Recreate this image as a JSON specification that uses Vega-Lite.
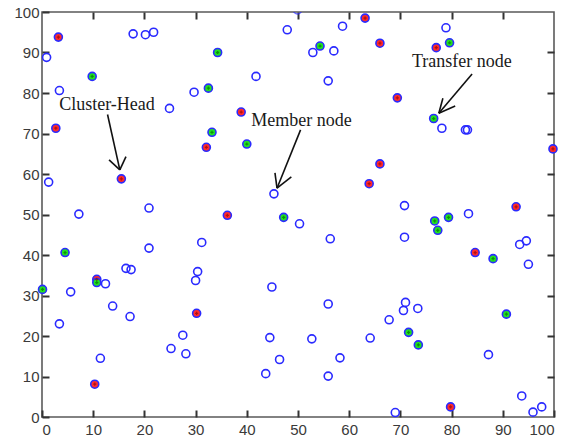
{
  "$schema": "https://vega.github.io/schema/vega-lite/v6.json",
  "width": 512,
  "height": 405,
  "autosize": {"type": "none"},
  "padding": {"left": 42, "top": 12, "right": 14, "bottom": 24},
  "background": "white",
  "config": {
    "view": {"stroke": "#5a5a5a", "strokeWidth": 1.6},
    "axis": {
      "grid": false,
      "ticks": true,
      "tickColor": "#333333",
      "tickWidth": 2,
      "labelFont": "Liberation Sans",
      "labelFontSize": 15,
      "labelColor": "#3a3a3a"
    }
  },
  "datasets": {
    "nodes": [
      {"x": 3.2, "y": 93.8, "t": "head"},
      {"x": 0.9, "y": 88.8, "t": "member"},
      {"x": 17.8, "y": 94.6, "t": "member"},
      {"x": 20.2, "y": 94.4, "t": "member"},
      {"x": 21.8, "y": 95.0, "t": "member"},
      {"x": 9.8, "y": 84.1, "t": "transfer"},
      {"x": 3.4, "y": 80.6, "t": "member"},
      {"x": 2.7, "y": 71.3, "t": "head"},
      {"x": 24.9, "y": 76.2, "t": "member"},
      {"x": 29.7, "y": 80.2, "t": "member"},
      {"x": 32.5, "y": 81.2, "t": "transfer"},
      {"x": 34.3, "y": 90.0, "t": "transfer"},
      {"x": 41.8, "y": 84.1, "t": "member"},
      {"x": 38.9, "y": 75.3, "t": "head"},
      {"x": 33.2, "y": 70.3, "t": "transfer"},
      {"x": 32.1, "y": 66.6, "t": "head"},
      {"x": 40.0, "y": 67.4, "t": "transfer"},
      {"x": 1.3, "y": 58.0, "t": "member"},
      {"x": 15.5, "y": 58.8, "t": "head"},
      {"x": 45.3, "y": 55.1, "t": "member"},
      {"x": 7.2, "y": 50.1, "t": "member"},
      {"x": 20.9, "y": 51.6, "t": "member"},
      {"x": 36.2, "y": 49.8, "t": "head"},
      {"x": 47.2, "y": 49.3, "t": "transfer"},
      {"x": 47.9, "y": 95.6, "t": "member"},
      {"x": 58.7, "y": 96.5, "t": "member"},
      {"x": 63.1, "y": 98.5, "t": "head"},
      {"x": 54.3, "y": 91.6, "t": "transfer"},
      {"x": 52.9, "y": 90.0, "t": "member"},
      {"x": 57.0, "y": 90.4, "t": "member"},
      {"x": 55.9, "y": 83.0, "t": "member"},
      {"x": 66.0, "y": 92.3, "t": "head"},
      {"x": 69.4, "y": 78.8, "t": "head"},
      {"x": 78.9, "y": 96.1, "t": "member"},
      {"x": 77.0, "y": 91.2, "t": "head"},
      {"x": 79.6, "y": 92.4, "t": "transfer"},
      {"x": 76.5, "y": 73.7, "t": "transfer"},
      {"x": 78.1, "y": 71.3, "t": "member"},
      {"x": 82.7, "y": 70.9, "t": "member"},
      {"x": 83.1, "y": 70.9, "t": "member"},
      {"x": 99.8, "y": 66.2, "t": "head"},
      {"x": 66.0, "y": 62.5, "t": "head"},
      {"x": 63.9, "y": 57.6, "t": "head"},
      {"x": 70.8, "y": 52.2, "t": "member"},
      {"x": 83.3, "y": 50.2, "t": "member"},
      {"x": 92.6, "y": 51.9, "t": "head"},
      {"x": 50.3, "y": 47.7, "t": "member"},
      {"x": 56.3, "y": 44.0, "t": "member"},
      {"x": 70.8, "y": 44.4, "t": "member"},
      {"x": 76.7, "y": 48.4, "t": "transfer"},
      {"x": 77.3, "y": 46.1, "t": "transfer"},
      {"x": 79.4, "y": 49.3, "t": "transfer"},
      {"x": 93.3, "y": 42.6, "t": "member"},
      {"x": 94.6, "y": 43.5, "t": "member"},
      {"x": 84.6, "y": 40.6, "t": "head"},
      {"x": 88.1, "y": 39.1, "t": "transfer"},
      {"x": 95.0, "y": 37.7, "t": "member"},
      {"x": 55.9, "y": 27.9, "t": "member"},
      {"x": 71.0, "y": 28.3, "t": "member"},
      {"x": 70.6, "y": 26.3, "t": "member"},
      {"x": 73.4, "y": 26.8, "t": "member"},
      {"x": 67.8, "y": 24.0, "t": "member"},
      {"x": 90.7, "y": 25.4, "t": "transfer"},
      {"x": 71.6, "y": 20.9, "t": "transfer"},
      {"x": 52.7, "y": 19.3, "t": "member"},
      {"x": 64.1, "y": 19.5, "t": "member"},
      {"x": 73.5, "y": 17.8, "t": "transfer"},
      {"x": 87.2, "y": 15.4, "t": "member"},
      {"x": 58.2, "y": 14.6, "t": "member"},
      {"x": 46.4, "y": 14.2, "t": "member"},
      {"x": 55.9, "y": 10.1, "t": "member"},
      {"x": 93.7, "y": 5.2, "t": "member"},
      {"x": 79.8, "y": 2.5, "t": "head"},
      {"x": 69.0, "y": 1.1, "t": "member"},
      {"x": 95.9, "y": 1.2, "t": "member"},
      {"x": 97.6, "y": 2.5, "t": "member"},
      {"x": 4.5, "y": 40.6, "t": "transfer"},
      {"x": 20.9, "y": 41.7, "t": "member"},
      {"x": 31.2, "y": 43.1, "t": "member"},
      {"x": 16.4, "y": 36.7, "t": "member"},
      {"x": 17.4, "y": 36.4, "t": "member"},
      {"x": 30.4, "y": 35.9, "t": "member"},
      {"x": 30.0, "y": 33.7, "t": "member"},
      {"x": 0.1, "y": 31.5, "t": "transfer"},
      {"x": 5.6, "y": 30.9, "t": "member"},
      {"x": 10.7, "y": 34.0, "t": "head"},
      {"x": 10.7, "y": 33.2, "t": "transfer"},
      {"x": 12.4, "y": 32.9, "t": "member"},
      {"x": 13.8, "y": 27.4, "t": "member"},
      {"x": 17.2, "y": 24.8, "t": "member"},
      {"x": 3.4, "y": 23.0, "t": "member"},
      {"x": 30.2, "y": 25.6, "t": "head"},
      {"x": 27.5, "y": 20.2, "t": "member"},
      {"x": 25.2, "y": 16.9, "t": "member"},
      {"x": 28.1, "y": 15.6, "t": "member"},
      {"x": 11.4, "y": 14.5, "t": "member"},
      {"x": 10.3, "y": 8.1, "t": "head"},
      {"x": 44.9, "y": 32.1, "t": "member"},
      {"x": 44.5, "y": 19.6, "t": "member"},
      {"x": 43.7, "y": 10.7, "t": "member"}
    ],
    "edge": [
      {"x": 49.9, "y": 100.5, "t": "member"}
    ],
    "labels": [
      {"x": 12.7, "y": 77.0, "label": "Cluster-Head"},
      {"x": 50.7, "y": 73.2, "label": "Member node"},
      {"x": 82.0, "y": 87.6, "label": "Transfer node"}
    ],
    "segments": [
      {"x": 12.8, "y": 74.7, "x2": 15.2, "y2": 61.0},
      {"x": 13.1, "y": 63.5, "x2": 15.2, "y2": 61.0},
      {"x": 16.4, "y": 64.3, "x2": 15.2, "y2": 61.0},
      {"x": 50.5, "y": 70.9, "x2": 45.9, "y2": 56.5},
      {"x": 45.5, "y": 60.3, "x2": 45.9, "y2": 56.5},
      {"x": 48.7, "y": 59.3, "x2": 45.9, "y2": 56.5},
      {"x": 84.0, "y": 84.7, "x2": 77.5, "y2": 75.0},
      {"x": 78.3, "y": 78.7, "x2": 77.5, "y2": 75.0},
      {"x": 80.7, "y": 76.8, "x2": 77.5, "y2": 75.0}
    ]
  },
  "layer": [
    {
      "data": {"name": "segments"},
      "mark": {"type": "rule", "color": "#111111", "strokeWidth": 1.6},
      "encoding": {
        "x": {"field": "x", "type": "quantitative", "title": null, "scale": {"domain": [0, 100], "nice": false},
              "axis": {"orient": "top", "labels": false, "domain": false, "ticks": true, "tickSize": 7, "offset": -7, "values": [10,20,30,40,50,60,70,80,90]}},
        "y": {"field": "y", "type": "quantitative", "title": null, "scale": {"domain": [0, 100], "nice": false},
              "axis": {"orient": "right", "labels": false, "domain": false, "ticks": true, "tickSize": 7, "offset": -7, "values": [10,20,30,40,50,60,70,80,90]}},
        "x2": {"field": "x2"},
        "y2": {"field": "y2"}
      }
    },
    {
      "data": {"name": "nodes"},
      "mark": {"type": "point", "shape": "circle", "filled": true, "size": 64, "strokeWidth": 1.6, "stroke": "#2a2aff", "opacity": 1, "fillOpacity": 1},
      "encoding": {
        "x": {"field": "x", "type": "quantitative", "title": null,
              "axis": {"orient": "bottom", "domain": false, "ticks": true, "tickSize": 7, "offset": -7, "labelPadding": 5, "values": [0,10,20,30,40,50,60,70,80,90,100]}},
        "y": {"field": "y", "type": "quantitative", "title": null,
              "axis": {"orient": "left", "domain": false, "ticks": true, "tickSize": 7, "offset": -7, "labelPadding": 3, "values": [0,10,20,30,40,50,60,70,80,90,100]}},
        "fill": {"field": "t", "type": "nominal",
                 "scale": {"domain": ["member", "head", "transfer"], "range": ["rgba(255,255,255,0)", "#ff2a2a", "#22e022"]},
                 "legend": null}
      }
    },
    {
      "data": {"name": "edge"},
      "mark": {"type": "point", "shape": "circle", "filled": false, "size": 64, "strokeWidth": 1.6, "color": "#2a2aff", "clip": true},
      "encoding": {
        "x": {"field": "x", "type": "quantitative", "axis": null},
        "y": {"field": "y", "type": "quantitative", "axis": null}
      }
    },
    {
      "data": {"name": "nodes"},
      "transform": [{"filter": "datum.t != 'member'"}],
      "mark": {"type": "point", "shape": "cross", "filled": true, "size": 10, "opacity": 0.6},
      "encoding": {
        "x": {"field": "x", "type": "quantitative", "axis": null},
        "y": {"field": "y", "type": "quantitative", "axis": null},
        "color": {"field": "t", "type": "nominal",
                  "scale": {"domain": ["head", "transfer"], "range": ["#7a0000", "#005a00"]},
                  "legend": null}
      }
    },
    {
      "data": {"name": "labels"},
      "mark": {"type": "text", "font": "Liberation Serif", "fontSize": 18, "color": "#1a1a1a", "align": "center", "baseline": "middle"},
      "encoding": {
        "x": {"field": "x", "type": "quantitative", "axis": null},
        "y": {"field": "y", "type": "quantitative", "axis": null},
        "text": {"field": "label"}
      }
    }
  ],
  "resolve": {"axis": {"x": "independent", "y": "independent"}}
}
